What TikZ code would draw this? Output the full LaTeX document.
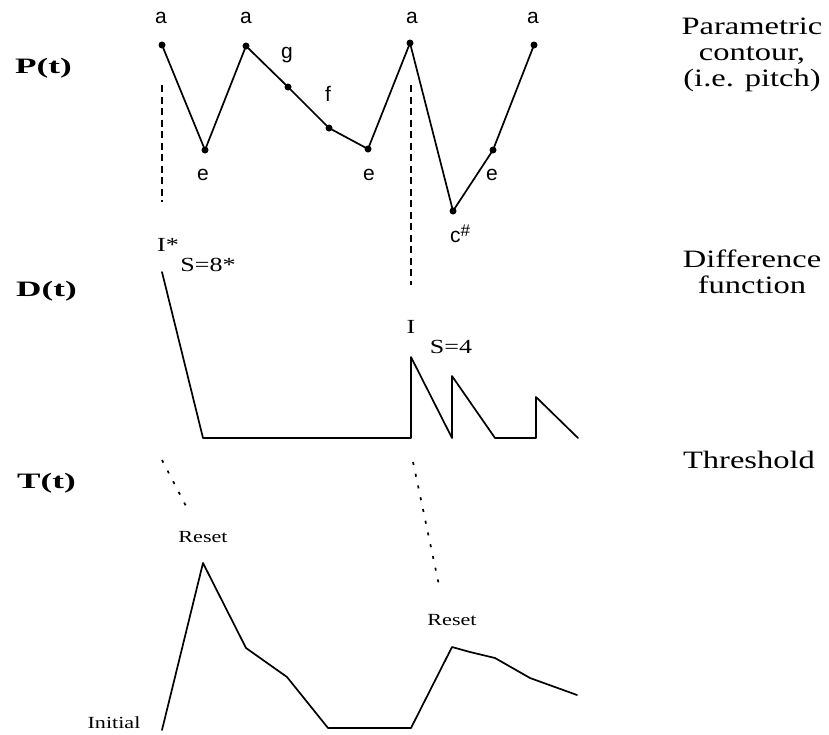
\documentclass[tikz,border=0pt]{standalone}
\usepackage{fontspec}
\setmainfont{Liberation Serif}
\newfontfamily\labfont[FakeStretch=1.3]{Liberation Serif}
\newfontfamily\boldfont[FakeStretch=1.6]{Liberation Serif}
\newfontfamily\notefont{Liberation Sans}
\begin{document}
\begin{tikzpicture}[x=1pt,y=-1pt,
  curve/.style={line width=1.7pt,line join=round,line cap=round},
  guide/.style={line width=1.7pt,dash pattern=on 7pt off 4.5pt},
  hint/.style={line width=1.7pt,dash pattern=on 3pt off 9pt},
  pdot/.style={circle,fill=black,inner sep=0pt,minimum size=7pt},
  note/.style={inner sep=0pt,font=\notefont\fontsize{21}{21}\selectfont},
  side/.style={inner sep=0pt,align=center,anchor=north,font=\labfont\fontsize{25}{26}\selectfont},
  fname/.style={inner sep=0pt,anchor=west,font=\boldfont\bfseries\fontsize{22}{22}\selectfont},
  dlabel/.style={inner sep=0pt,font=\labfont\fontsize{20}{20}\selectfont},
  small/.style={inner sep=0pt,font=\labfont\fontsize{17}{17}\selectfont}]
\useasboundingbox (0,0) rectangle (829,734);

% ---- function names
\node[fname] (lp) at (15,68) {P(t)};
\node[fname] (ld) at (16,291) {D(t)};
\node[fname] (lt) at (17,483) {T(t)};

% ---- side descriptions
\node[side] (sp) at (752,18) {Parametric\\contour,\\(i.e. pitch)};
\node[side] (sd) at (752,250) {Difference\\function};
\node[side] (st) at (749,451) {Threshold};

% ---- P(t) contour
\node[pdot] (pa1) at (162,45) {};
\node[pdot] (pe1) at (205,150) {};
\node[pdot] (pa2) at (246,46) {};
\node[pdot] (pg) at (288,87) {};
\node[pdot] (pf) at (329,128) {};
\node[pdot] (pe2) at (368,149) {};
\node[pdot] (pa3) at (410,43) {};
\node[pdot] (pc) at (453,211) {};
\node[pdot] (pe3) at (493,150) {};
\node[pdot] (pa4) at (534,45) {};
\draw[curve] (pa1.center) -- (pe1.center) -- (pa2.center) -- (pg.center) -- (pf.center)
  -- (pe2.center) -- (pa3.center) -- (pc.center) -- (pe3.center) -- (pa4.center);

\node[note] (na1) at (161,18) {a};
\node[note] (na2) at (246,18) {a};
\node[note] (na3) at (412,18) {a};
\node[note] (na4) at (533,18) {a};
\node[note] (ne1) at (203,175) {e};
\node[note] (ne2) at (369,175) {e};
\node[note] (ne3) at (492,175) {e};
\node[note] (ng) at (287,55) {g};
\node[note] (nf) at (328,94) {f};
\node[note] (nc) at (460,234) {c\raisebox{6pt}{\fontsize{17}{17}\selectfont\#}};

% ---- vertical guides
\coordinate (g1a) at (162,85);
\coordinate (g1b) at (162,202);
\coordinate (g2a) at (411,85);
\coordinate (g2b) at (411,285);
\draw[guide] (g1a) -- (g1b);
\draw[guide] (g2a) -- (g2b);

% ---- D(t)
\coordinate (d0) at (162,272);
\coordinate (d1) at (203,438);
\coordinate (d2) at (411,438);
\coordinate (d3) at (411,357);
\coordinate (d4) at (452,438);
\coordinate (d5) at (452,376);
\coordinate (d6) at (495,438);
\coordinate (d7) at (536,438);
\coordinate (d8) at (536,397);
\coordinate (d9) at (578,438);
\draw[curve] (d0) -- (d1) -- (d2) -- (d3) -- (d4) -- (d5) -- (d6) -- (d7) -- (d8) -- (d9);

\node[dlabel] (mi1) at (168,245) {I*};
\node[dlabel] (ms1) at (208,265) {S=8*};
\node[dlabel] (mi2) at (411,327) {I};
\node[dlabel] (ms2) at (451,347) {S=4};

% ---- dotted hints
\coordinate (h1a) at (162,460);
\coordinate (h1b) at (187,508);
\coordinate (h2a) at (413,462);
\coordinate (h2b) at (440,590);
\draw[hint] (h1a) -- (h1b);
\draw[hint] (h2a) -- (h2b);

% ---- T(t)
\coordinate (t0) at (162,730);
\coordinate (t1) at (203,563);
\coordinate (t2) at (246,648);
\coordinate (t3) at (287,677);
\coordinate (t4) at (328,728);
\coordinate (t5) at (411,728);
\coordinate (t6) at (452,647);
\coordinate (t7) at (470,652);
\coordinate (t8) at (495,658);
\coordinate (t9) at (530,678);
\coordinate (t10) at (577,695);
\draw[curve] (t0) -- (t1) -- (t2) -- (t3) -- (t4) -- (t5) -- (t6) -- (t7) -- (t8) -- (t9) -- (t10);

\node[small] (r1) at (203,537) {Reset};
\node[small] (r2) at (452,620) {Reset};
\node[small] (ini) at (114,723) {Initial};
\end{tikzpicture}
\end{document}
